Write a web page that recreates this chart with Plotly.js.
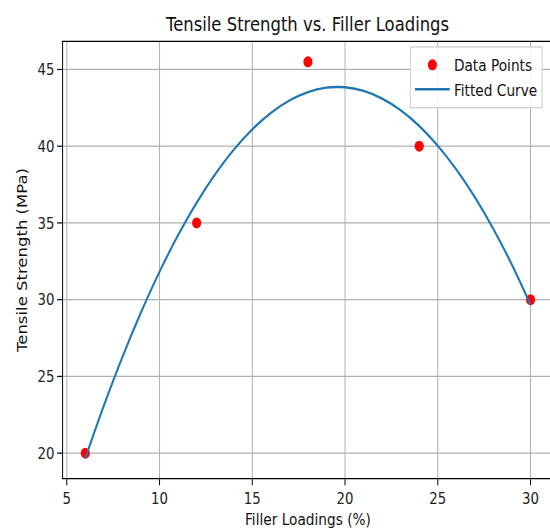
<!DOCTYPE html>
<html>
<head>
<meta charset="utf-8">
<script src="https://cdn.plot.ly/plotly-3.0.1.min.js"></script>
<style>
html, body { margin: 0; padding: 0; overflow: hidden; background: #fff; }
#wrap { width: 550px; height: 529px; overflow: hidden; }
#chart { width: 670px; height: 529px; transform: scaleX(0.83); transform-origin: 0 0; }
</style>
</head>
<body>
<div id="wrap"><div id="chart"></div></div>
<script>
// Measured data points
var loadings = [6, 12, 18, 24, 30];
var strength = [20, 35, 45.5, 40, 30];

// Fitted curve
var curveX = [6, 7, 8, 9, 10, 11, 12, 13, 14, 15, 16, 17, 18, 19, 19.6, 20, 21, 22, 23, 24, 25, 26, 27, 28, 29, 30];
var curveY = [19.67, 23.10, 26.27, 29.17, 31.82, 34.20, 36.32, 38.17, 39.77, 41.10, 42.17, 42.98, 43.53, 43.82, 43.86, 43.84, 43.60, 43.10, 42.34, 41.32, 40.03, 38.48, 36.67, 34.60, 32.27, 29.67];

var xTicks = [5, 10, 15, 20, 25, 30];
var yTicks = [20, 25, 30, 35, 40, 45];

var font = "DejaVu Sans, sans-serif";

var traces = [
  {
    x: loadings, y: strength, type: "scatter", mode: "markers", name: "Data Points",
    legendgroup: "a",
    marker: { color: "red", size: 11, line: { width: 0 } }
  },
  {
    x: curveX, y: curveY, type: "scatter", mode: "lines", name: "Fitted Curve",
    legendgroup: "b",
    line: { color: "#1f77b4", width: 2.4, shape: "spline" }
  }
];

var axisCommon = {
  showgrid: true, gridcolor: "#b0b0b0", gridwidth: 1.2,
  zeroline: false, showline: true, linecolor: "#000", linewidth: 1.2,
  ticks: "outside", ticklen: 6, tickwidth: 1.2, tickcolor: "#000",
  tickfont: { family: font, size: 16, color: "#222" }
};

var layout = {
  width: 670, height: 529,
  margin: { l: 76.3, r: 3.7, t: 41.5, b: 50.7 },
  paper_bgcolor: "#fff", plot_bgcolor: "#fff",
  font: { family: font, color: "#000" },
  title: { text: "Tensile Strength vs. Filler Loadings", font: { family: font, size: 19.8, color: "#111" },
           x: 0.553, xanchor: "center", y: 0.955, yanchor: "middle" },
  xaxis: Object.assign({}, axisCommon, {
    range: [4.8, 31.2], tickvals: xTicks, mirror: true,
    title: { text: "Filler Loadings (%)", font: { family: font, size: 16.5, color: "#111" }, standoff: 6 }
  }),
  yaxis: Object.assign({}, axisCommon, {
    range: [18.38, 46.79], tickvals: yTicks, mirror: false,
    title: { text: "Tensile Strength (MPa)", font: { family: font, size: 16.5, color: "#111" }, standoff: 8 }
  }),
  legend: {
    x: 0.708, y: 0.99, xanchor: "left", yanchor: "top",
    bgcolor: "rgba(255,255,255,0.85)", bordercolor: "#cccccc", borderwidth: 1.2,
    font: { family: font, size: 16.5, color: "#111" },
    itemwidth: 42, tracegroupgap: 0
  },
  showlegend: true
};

Plotly.newPlot("chart", traces, layout, { displayModeBar: false, staticPlot: true });
</script>
</body>
</html>
